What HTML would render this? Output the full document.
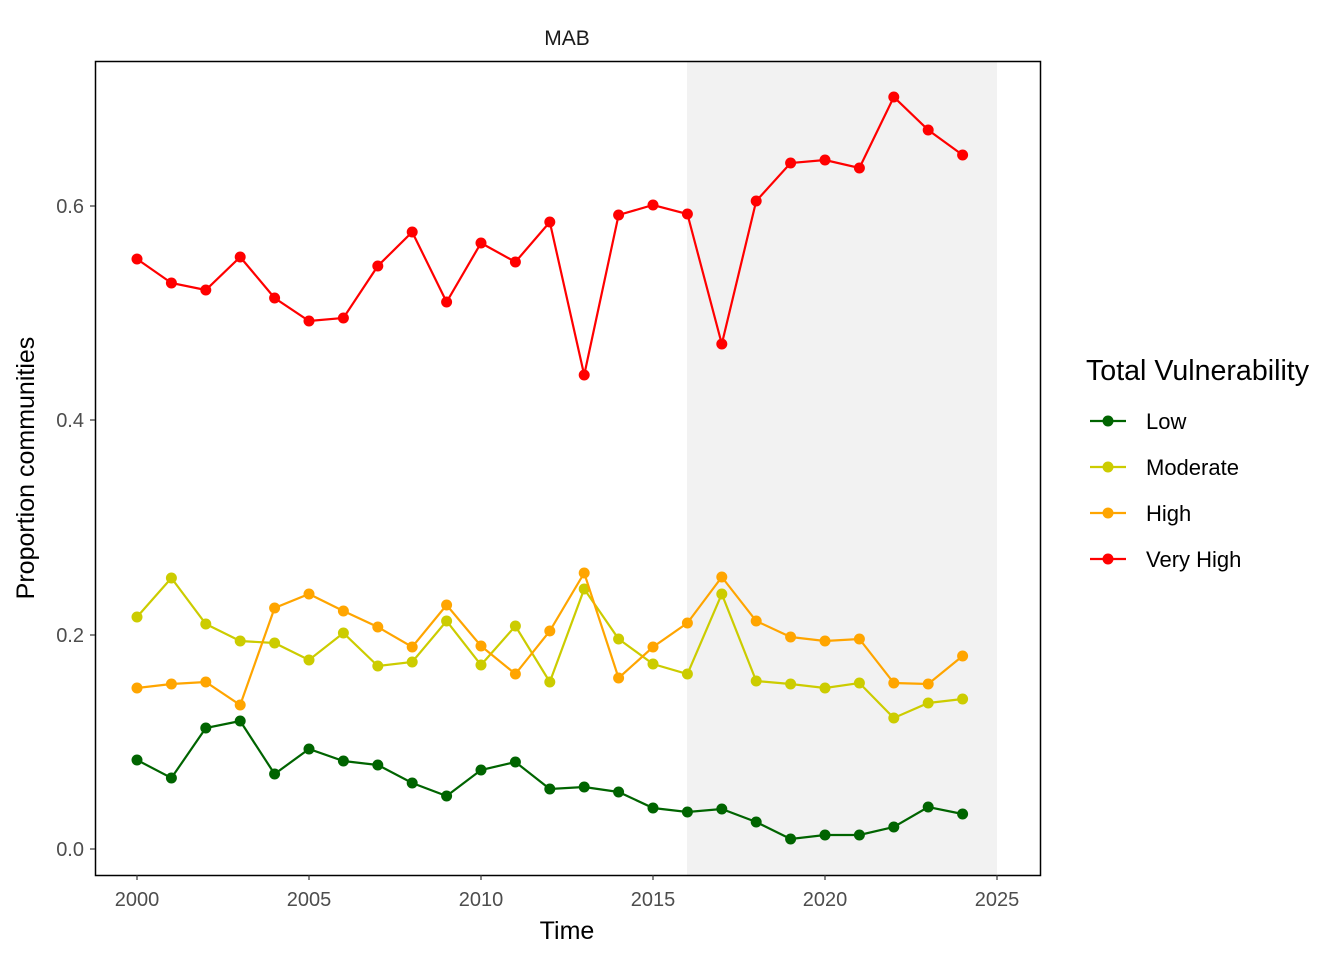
<!DOCTYPE html>
<html><head><meta charset="utf-8"><style>html,body{margin:0;padding:0;background:#fff}</style></head>
<body>
<svg width="1344" height="960" xmlns="http://www.w3.org/2000/svg" font-family="Liberation Sans, sans-serif">
<defs>
<marker id="mr" markerUnits="userSpaceOnUse" markerWidth="14" markerHeight="14" refX="7" refY="7" viewBox="0 0 14 14"><circle cx="7" cy="7" r="5.5" fill="#ff0000"/></marker>
<marker id="my" markerUnits="userSpaceOnUse" markerWidth="14" markerHeight="14" refX="7" refY="7" viewBox="0 0 14 14"><circle cx="7" cy="7" r="5.5" fill="#cccc00"/></marker>
<marker id="mo" markerUnits="userSpaceOnUse" markerWidth="14" markerHeight="14" refX="7" refY="7" viewBox="0 0 14 14"><circle cx="7" cy="7" r="5.5" fill="#ffa500"/></marker>
<marker id="mg" markerUnits="userSpaceOnUse" markerWidth="14" markerHeight="14" refX="7" refY="7" viewBox="0 0 14 14"><circle cx="7" cy="7" r="5.5" fill="#006400"/></marker>
</defs>
<rect width="1344" height="960" fill="#fff"/>
<rect x="687" y="61" width="310" height="814" fill="#f2f2f2"/>
<rect x="95.5" y="61.5" width="945" height="814" fill="none" stroke="#000" stroke-width="1.5"/>
<text x="567" y="45" font-size="21" text-anchor="middle" fill="#1a1a1a">MAB</text>
<g stroke="#333" stroke-width="1.2">
<line x1="90" y1="849" x2="95" y2="849"/><line x1="90" y1="635" x2="95" y2="635"/><line x1="90" y1="420" x2="95" y2="420"/><line x1="90" y1="206" x2="95" y2="206"/>
<line x1="137" y1="875" x2="137" y2="880"/><line x1="309" y1="875" x2="309" y2="880"/><line x1="481" y1="875" x2="481" y2="880"/><line x1="653" y1="875" x2="653" y2="880"/><line x1="825" y1="875" x2="825" y2="880"/><line x1="997" y1="875" x2="997" y2="880"/>
</g>
<g font-size="20" fill="#4d4d4d" text-anchor="end">
<text x="84" y="856">0.0</text><text x="84" y="642">0.2</text><text x="84" y="427">0.4</text><text x="84" y="213">0.6</text>
</g>
<g font-size="20" fill="#4d4d4d" text-anchor="middle">
<text x="137" y="906">2000</text><text x="309" y="906">2005</text><text x="481" y="906">2010</text><text x="653" y="906">2015</text><text x="825" y="906">2020</text><text x="997" y="906">2025</text>
</g>
<text x="567" y="939" font-size="25" text-anchor="middle" fill="#000">Time</text>
<text transform="translate(34,468) rotate(-90)" font-size="25" text-anchor="middle" fill="#000">Proportion communities</text>
<g fill="none" stroke-width="2.2">
<polyline stroke="#ff0000" marker-start="url(#mr)" marker-mid="url(#mr)" marker-end="url(#mr)" points="137,259 171.4,283 205.8,290 240.2,257 274.6,298 309,321 343.4,318 377.8,266 412.2,232 446.6,302 481,243 515.4,262 549.8,222 584.2,375 618.6,215 653,205 687.4,214 721.8,344 756.2,201 790.6,163 825,160 859.4,168 893.8,97 928.2,130 962.6,155"/>
<polyline stroke="#cccc00" marker-start="url(#my)" marker-mid="url(#my)" marker-end="url(#my)" points="137,617 171.4,578 205.8,624 240.2,641 274.6,643 309,660 343.4,633 377.8,666 412.2,662 446.6,621 481,665 515.4,626 549.8,682 584.2,589 618.6,639 653,664 687.4,674 721.8,594 756.2,681 790.6,684 825,688 859.4,683 893.8,718 928.2,703 962.6,699"/>
<polyline stroke="#ffa500" marker-start="url(#mo)" marker-mid="url(#mo)" marker-end="url(#mo)" points="137,688 171.4,684 205.8,682 240.2,705 274.6,608 309,594 343.4,611 377.8,627 412.2,647 446.6,605 481,646 515.4,674 549.8,631 584.2,573 618.6,678 653,647 687.4,623 721.8,577 756.2,621 790.6,637 825,641 859.4,639 893.8,683 928.2,684 962.6,656"/>
<polyline stroke="#006400" marker-start="url(#mg)" marker-mid="url(#mg)" marker-end="url(#mg)" points="137,760 171.4,778 205.8,728 240.2,721 274.6,774 309,749 343.4,761 377.8,765 412.2,783 446.6,796 481,770 515.4,762 549.8,789 584.2,787 618.6,792 653,808 687.4,812 721.8,809 756.2,822 790.6,839 825,835 859.4,835 893.8,827 928.2,807 962.6,814"/>
</g>
<text x="1086" y="380" font-size="28.6" fill="#000">Total Vulnerability</text>
<g stroke-width="2.2">
<line x1="1090" y1="421" x2="1126" y2="421" stroke="#006400"/><circle cx="1108" cy="421" r="5.5" fill="#006400"/>
<line x1="1090" y1="467" x2="1126" y2="467" stroke="#cccc00"/><circle cx="1108" cy="467" r="5.5" fill="#cccc00"/>
<line x1="1090" y1="513" x2="1126" y2="513" stroke="#ffa500"/><circle cx="1108" cy="513" r="5.5" fill="#ffa500"/>
<line x1="1090" y1="559" x2="1126" y2="559" stroke="#ff0000"/><circle cx="1108" cy="559" r="5.5" fill="#ff0000"/>
</g>
<g font-size="22" fill="#000">
<text x="1146" y="429">Low</text><text x="1146" y="475">Moderate</text><text x="1146" y="521">High</text><text x="1146" y="567">Very High</text>
</g>
</svg>
</body></html>
